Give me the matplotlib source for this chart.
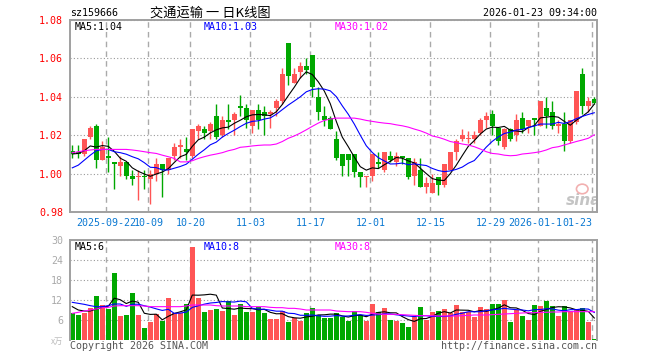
import numpy as np
import matplotlib.pyplot as plt
import matplotlib.ticker as mticker
from matplotlib.patches import Ellipse

# ---- data (daily K-line, 159666) ----
opens = [1.012, 1.011, 1.010, 1.019, 1.025, 1.007, 1.009, 1.006, 1.004, 1.006,
         0.999, 0.998, 0.999, 0.997, 1.000, 1.005, 1.002, 1.009, 1.014, 1.013,
         1.009, 1.022, 1.023, 1.022, 1.030, 1.020, 1.028, 1.028, 1.035, 1.034,
         1.025, 1.033, 1.032, 1.031, 1.034, 1.038, 1.068, 1.047, 1.053, 1.056,
         1.062, 1.040, 1.030, 1.029, 1.018, 1.010, 1.010, 1.010, 1.001, 0.998,
         0.999, 1.006, 1.002, 1.009, 1.006, 1.009, 1.008, 0.999, 1.002, 0.993,
         0.990, 0.998, 0.994, 1.002, 1.011, 1.018, 1.018, 1.018, 1.021, 1.028,
         1.031, 1.024, 1.014, 1.023, 1.020, 1.029, 1.025, 1.029, 1.025, 1.034,
         1.032, 1.025, 1.026, 1.017, 1.027, 1.052, 1.035, 1.039]
highs = [1.015, 1.015, 1.018, 1.025, 1.026, 1.017, 1.019, 1.006, 1.009, 1.006,
         1.002, 1.002, 1.002, 1.002, 1.008, 1.005, 1.008, 1.016, 1.018, 1.019,
         1.023, 1.026, 1.025, 1.027, 1.036, 1.030, 1.036, 1.032, 1.041, 1.036,
         1.033, 1.036, 1.035, 1.033, 1.039, 1.055, 1.068, 1.055, 1.058, 1.060,
         1.062, 1.045, 1.035, 1.030, 1.022, 1.010, 1.010, 1.010, 1.001, 0.999,
         1.010, 1.011, 1.011, 1.012, 1.011, 1.009, 1.008, 1.008, 1.008, 0.998,
         1.000, 0.998, 1.005, 1.011, 1.018, 1.023, 1.022, 1.022, 1.029, 1.032,
         1.033, 1.024, 1.024, 1.024, 1.031, 1.032, 1.028, 1.029, 1.038, 1.040,
         1.038, 1.028, 1.032, 1.028, 1.043, 1.055, 1.040, 1.040]
lows = [1.008, 1.008, 1.009, 1.018, 1.003, 1.007, 1.001, 0.992, 0.999, 0.997,
        0.994, 0.986, 0.992, 0.984, 0.996, 0.988, 1.000, 1.007, 1.008, 1.007,
        1.008, 1.018, 1.018, 1.018, 1.018, 1.019, 1.023, 1.020, 1.030, 1.024,
        1.021, 1.023, 1.020, 1.024, 1.030, 1.036, 1.046, 1.047, 1.050, 1.052,
        1.040, 1.028, 1.025, 1.023, 1.007, 0.999, 0.999, 0.998, 0.993, 0.993,
        0.996, 1.003, 1.001, 1.006, 1.004, 1.005, 0.997, 0.994, 0.993, 0.990,
        0.990, 0.989, 0.993, 1.002, 1.007, 1.017, 1.016, 1.016, 1.020, 1.024,
        1.020, 1.015, 1.013, 1.017, 1.017, 1.021, 1.021, 1.020, 1.025, 1.024,
        1.023, 1.021, 1.012, 1.016, 1.026, 1.031, 1.032, 1.036]
closes = [1.010, 1.010, 1.018, 1.024, 1.007, 1.014, 1.008, 1.005, 1.006, 0.999,
          0.997, 0.999, 0.998, 1.000, 1.005, 1.002, 1.008, 1.014, 1.015, 1.011,
          1.023, 1.025, 1.021, 1.026, 1.019, 1.028, 1.027, 1.031, 1.034, 1.028,
          1.033, 1.028, 1.030, 1.032, 1.038, 1.052, 1.051, 1.052, 1.056, 1.054,
          1.045, 1.032, 1.028, 1.023, 1.008, 1.004, 1.007, 1.001, 0.998, 0.999,
          1.010, 1.005, 1.011, 1.007, 1.009, 1.008, 0.998, 1.006, 0.993, 0.995,
          0.995, 0.994, 1.005, 1.011, 1.017, 1.020, 1.018, 1.020, 1.028, 1.030,
          1.025, 1.017, 1.023, 1.018, 1.028, 1.023, 1.028, 1.028, 1.038, 1.030,
          1.025, 1.026, 1.017, 1.028, 1.043, 1.035, 1.038, 1.037]

ma5 = [1.0102, 1.0105, 1.0119, 1.0144, 1.0138, 1.0146, 1.0142, 1.0116, 1.0080, 1.0064,
       1.0030, 1.0012, 0.9998, 0.9986, 0.9998, 1.0008, 1.0026, 1.0058, 1.0088, 1.0100,
       1.0142, 1.0176, 1.0190, 1.0212, 1.0228, 1.0238, 1.0242, 1.0262, 1.0278, 1.0296,
       1.0306, 1.0308, 1.0306, 1.0302, 1.0322, 1.0360, 1.0406, 1.0450, 1.0498, 1.0530,
       1.0516, 1.0478, 1.0430, 1.0364, 1.0272, 1.0190, 1.0140, 1.0086, 1.0036, 1.0018,
       1.0030, 1.0026, 1.0046, 1.0064, 1.0084, 1.0080, 1.0066, 1.0056, 1.0028, 1.0000,
       0.9974, 0.9966, 0.9964, 1.0000, 1.0044, 1.0094, 1.0142, 1.0172, 1.0206, 1.0232,
       1.0242, 1.0240, 1.0246, 1.0226, 1.0222, 1.0218, 1.0240, 1.0250, 1.0290, 1.0294,
       1.0298, 1.0294, 1.0272, 1.0252, 1.0278, 1.0298, 1.0322, 1.0362]
ma10 = [1.0030, 1.0044, 1.0070, 1.0096, 1.0119, 1.0126, 1.0126, 1.0114, 1.0109, 1.0101,
        1.0088, 1.0077, 1.0057, 1.0033, 1.0031, 1.0019, 1.0019, 1.0028, 1.0037, 1.0049,
        1.0075, 1.0101, 1.0124, 1.0150, 1.0164, 1.0190, 1.0209, 1.0226, 1.0245, 1.0262,
        1.0272, 1.0275, 1.0284, 1.0290, 1.0309, 1.0333, 1.0357, 1.0378, 1.0400, 1.0426,
        1.0438, 1.0442, 1.0440, 1.0431, 1.0401, 1.0353, 1.0309, 1.0258, 1.0200, 1.0145,
        1.0110, 1.0083, 1.0066, 1.0050, 1.0051, 1.0055, 1.0046, 1.0051, 1.0046, 1.0042,
        1.0027, 1.0016, 1.0010, 1.0014, 1.0022, 1.0034, 1.0054, 1.0068, 1.0103, 1.0138,
        1.0168, 1.0191, 1.0209, 1.0216, 1.0227, 1.0230, 1.0240, 1.0248, 1.0258, 1.0258,
        1.0258, 1.0267, 1.0261, 1.0271, 1.0286, 1.0298, 1.0308, 1.0317]
ma30 = [1.0109, 1.0114, 1.0119, 1.0123, 1.0126, 1.0126, 1.0126, 1.0126, 1.0126, 1.0126,
        1.0123, 1.0119, 1.0114, 1.0109, 1.0105, 1.0096, 1.0088, 1.0079, 1.0061, 1.0061,
        1.0067, 1.0079, 1.0088, 1.0096, 1.0102, 1.0109, 1.0119, 1.0126, 1.0137, 1.0140,
        1.0144, 1.0147, 1.0149, 1.0149, 1.0154, 1.0167, 1.0184, 1.0196, 1.0211, 1.0228,
        1.0246, 1.0263, 1.0277, 1.0284, 1.0289, 1.0289, 1.0289, 1.0289, 1.0284, 1.0277,
        1.0272, 1.0267, 1.0263, 1.0260, 1.0254, 1.0249, 1.0242, 1.0232, 1.0223, 1.0211,
        1.0196, 1.0189, 1.0179, 1.0167, 1.0161, 1.0154, 1.0149, 1.0140, 1.0128, 1.0114,
        1.0105, 1.0102, 1.0096, 1.0093, 1.0095, 1.0102, 1.0105, 1.0109, 1.0114, 1.0123,
        1.0135, 1.0140, 1.0149, 1.0158, 1.0167, 1.0175, 1.0184, 1.0202]

# volume in 万手
vols = [8.0, 7.5, 8.2, 9.5, 13.2, 10.5, 9.3, 20.2, 7.2, 7.5,
        14.2, 7.5, 3.7, 5.5, 7.8, 5.8, 12.7, 8.0, 8.0, 10.7,
        28.0, 12.5, 8.5, 9.0, 9.3, 8.7, 11.7, 7.5, 10.8, 8.5,
        8.5, 10.0, 8.2, 6.3, 6.3, 8.7, 5.5, 6.5, 5.7, 8.2,
        9.7, 7.5, 6.7, 6.7, 8.2, 7.0, 5.8, 8.8, 7.5, 5.8,
        10.8, 8.5, 9.7, 6.0, 5.7, 5.2, 4.0, 7.0, 10.0, 6.0,
        8.5, 8.7, 9.3, 8.0, 10.5, 8.3, 8.5, 7.0, 9.9, 9.3,
        10.8, 10.8, 12.0, 5.5, 9.0, 7.2, 6.0, 10.5, 10.2, 11.8,
        10.2, 7.2, 10.2, 8.7, 9.0, 9.5, 5.5, 0.3]
vma5 = [10.0, 9.0, 8.7, 8.7, 9.28, 9.78, 10.14, 12.54, 12.08, 10.94,
        11.68, 11.32, 8.02, 7.68, 7.74, 6.06, 7.10, 7.96, 8.46, 9.04,
        13.48, 13.44, 13.54, 13.74, 13.46, 9.60, 9.44, 9.24, 9.60, 9.44,
        9.40, 9.06, 9.20, 8.30, 7.86, 7.90, 7.00, 6.66, 6.54, 6.92,
        7.12, 7.52, 7.56, 7.76, 7.76, 7.22, 6.88, 7.30, 7.46, 6.98,
        7.74, 8.28, 8.46, 8.16, 8.14, 7.02, 6.12, 5.58, 6.38, 6.44,
        7.10, 8.04, 8.50, 8.10, 9.00, 8.96, 8.92, 8.46, 8.84, 8.60,
        9.10, 9.56, 10.56, 9.68, 9.62, 8.90, 7.94, 7.64, 8.58, 9.14,
        9.74, 9.98, 9.92, 9.62, 9.06, 8.92, 8.58, 6.60]
vma10 = [11.3, 11.0, 10.7, 10.3, 10.0, 10.0, 10.3, 10.8, 10.8, 10.11,
         10.73, 10.73, 10.28, 9.88, 9.34, 8.87, 9.21, 7.99, 8.07, 8.39,
         9.77, 10.27, 10.75, 11.10, 11.25, 11.54, 11.44, 11.39, 11.67, 11.45,
         9.50, 9.25, 9.22, 8.95, 8.65, 8.65, 8.03, 7.93, 7.42, 7.39,
         7.51, 7.26, 7.11, 7.15, 7.34, 7.17, 7.20, 7.43, 7.61, 7.37,
         7.48, 7.58, 7.88, 7.81, 7.56, 7.38, 7.20, 7.02, 7.27, 7.29,
         7.06, 7.08, 7.04, 7.24, 7.72, 8.03, 8.48, 8.48, 8.47, 8.80,
         9.03, 9.24, 9.51, 9.26, 9.11, 9.00, 8.75, 9.10, 9.13, 9.38,
         9.32, 8.96, 8.78, 9.10, 9.10, 9.33, 9.28, 8.26]
vma30 = [8.0, 8.3, 8.7, 9.0, 9.3, 9.7, 9.8, 10.2, 10.3, 10.3,
         10.3, 10.3, 10.2, 10.0, 10.0, 10.0, 10.0, 10.0, 10.0, 10.2,
         10.5, 10.5, 10.5, 10.5, 10.3, 10.2, 10.2, 10.2, 10.2, 10.0,
         10.0, 10.0, 10.0, 9.8, 9.7, 9.7, 9.5, 9.5, 9.3, 9.0,
         9.0, 9.0, 9.0, 9.0, 8.7, 8.6, 8.5, 8.5, 8.5, 8.3,
         8.0, 7.8, 7.7, 7.7, 7.7, 7.6, 7.5, 7.4, 7.3, 7.3,
         7.3, 7.2, 7.2, 7.2, 7.2, 7.3, 7.4, 7.5, 7.5, 7.5,
         7.6, 7.7, 7.8, 7.9, 8.0, 8.1, 8.2, 8.2, 8.3, 8.3,
         8.4, 8.4, 8.5, 8.5, 8.5, 8.5, 8.5, 8.5]

tick_idx = [6, 13, 20, 30, 40, 50, 60, 70, 78, 87]
tick_labels = ['2025-09-22', '10-09', '10-20', '11-03', '11-17',
               '12-01', '12-15', '12-29', '2026-01-12', '01-23']
price_ticks = [0.98, 1.00, 1.02, 1.04, 1.06, 1.08]
vol_ticks = [0, 6, 12, 18, 24, 30]
vol_tick_labels = ['x万', '6', '12', '18', '24', '30']

RED = '#ff5555'
GREEN = '#00a800'
MONO = 'DejaVu Sans Mono'
CJK = ['Noto Sans CJK SC', 'DejaVu Sans']
FS = 7.2

o = np.array(opens); c = np.array(closes)
x = np.arange(len(o))
colors = np.where(c >= o, RED, GREEN)

W, H = 660, 360
def box(l, t, r, b):
    return [l / W, 1 - b / H, (r - l) / W, (b - t) / H]

fig = plt.figure(figsize=(6.6, 3.6), dpi=100)
ax = fig.add_axes(box(70, 20, 597, 212))
axv = fig.add_axes(box(70, 240, 597, 340))

# candles
ax.vlines(x, lows, highs, colors=colors, lw=1, zorder=2)
ax.bar(x, np.maximum(np.abs(c - o), 0.0005), bottom=np.minimum(o, c),
       width=0.8, color=colors, lw=0, zorder=2)
ax.plot(x, ma5, color='black', lw=0.8, zorder=3)
ax.plot(x, ma10, color='#0000ff', lw=0.8, zorder=3)
ax.plot(x, ma30, color='#ff00ff', lw=0.8, zorder=3)

# volume
axv.bar(x, vols, width=0.85, color=colors, lw=0, zorder=2)
axv.plot(x, vma5, color='black', lw=0.8, zorder=3)
axv.plot(x, vma10, color='#0000ff', lw=0.8, zorder=3)
axv.plot(x, vma30, color='#ff00ff', lw=0.8, zorder=3)

tpos = [i - 0.3 for i in tick_idx]
for a in (ax, axv):
    a.set_xlim(-0.38, 87.45)
    a.set_xticks(tpos)
    a.grid(axis='x', ls=(0, (4, 3)), color='#aaaaaa', lw=1)
    a.grid(axis='y', ls=(0, (1, 2)), color='#999999', lw=0.8)
    a.set_axisbelow(True)
    for s in a.spines.values():
        s.set_color('#a0a0a0')
        s.set_linewidth(1.4)
    a.tick_params(length=0)

ax.set_ylim(0.98, 1.08)
ax.set_yticks(price_ticks)
ax.yaxis.set_major_formatter(mticker.FormatStrFormatter('%.2f'))
ax.tick_params(axis='y', colors='red', labelsize=FS, pad=5)
ax.set_xticklabels(tick_labels)
ax.tick_params(axis='x', colors='#0a78d2', labelsize=FS, pad=4)
for lab in ax.get_xticklabels() + ax.get_yticklabels():
    lab.set_fontfamily(MONO)
last = ax.get_xticklabels()[-1]
last.set_ha('right')
last.set_bbox(dict(fc='white', ec='none', pad=0.5))

axv.set_ylim(0, 30)
axv.set_yticks(vol_ticks)
axv.set_yticklabels(vol_tick_labels)
axv.tick_params(axis='y', colors='#aaaaaa', labelsize=FS, pad=5)
axv.tick_params(axis='x', labelbottom=False)
axv.spines['bottom'].set_visible(False)
for lab in axv.get_yticklabels():
    lab.set_fontfamily(MONO)
ylab0 = axv.get_yticklabels()[0]
ylab0.set_fontfamily(CJK)
ylab0.set_fontsize(6)
ylab0.set_color('#bbbbbb')

# sina watermark
ax.text(0.94, 0.062, 'sina', transform=ax.transAxes, fontsize=11,
        fontweight='bold', style='italic', color='#c4c4c4', va='center',
        clip_on=True, zorder=1)
ax.add_patch(Ellipse((0.972, 0.12), 0.022, 0.05, transform=ax.transAxes,
                     fc='none', ec='#f2b0b0', lw=1.2, zorder=1))

# header / labels
def ftext(px, py, s, **kw):
    kw.setdefault('family', MONO)
    kw.setdefault('fontsize', FS)
    kw.setdefault('va', 'center')
    fig.text(px / W, 1 - py / H, s, **kw)

ftext(70, 13, 'sz159666')
ftext(150, 13, '交通运输 一 日K线图', family=CJK, fontsize=9.5)
ftext(597, 13, '2026-01-23 09:34:00', ha='right')
ftext(75, 27, 'MA5:1.04', color='black')
ftext(204, 27, 'MA10:1.03', color='#0000ff')
ftext(335, 27, 'MA30:1.02', color='#ff00ff')
ftext(75, 247, 'MA5:6', color='black')
ftext(204, 247, 'MA10:8', color='#0000ff')
ftext(335, 247, 'MA30:8', color='#ff00ff')
ftext(70, 346, 'Copyright 2026 SINA.COM', color='#555555')
ftext(597, 346, 'http://finance.sina.com.cn', color='#555555', ha='right')

fig.savefig('out.png', dpi=100, facecolor='white')
